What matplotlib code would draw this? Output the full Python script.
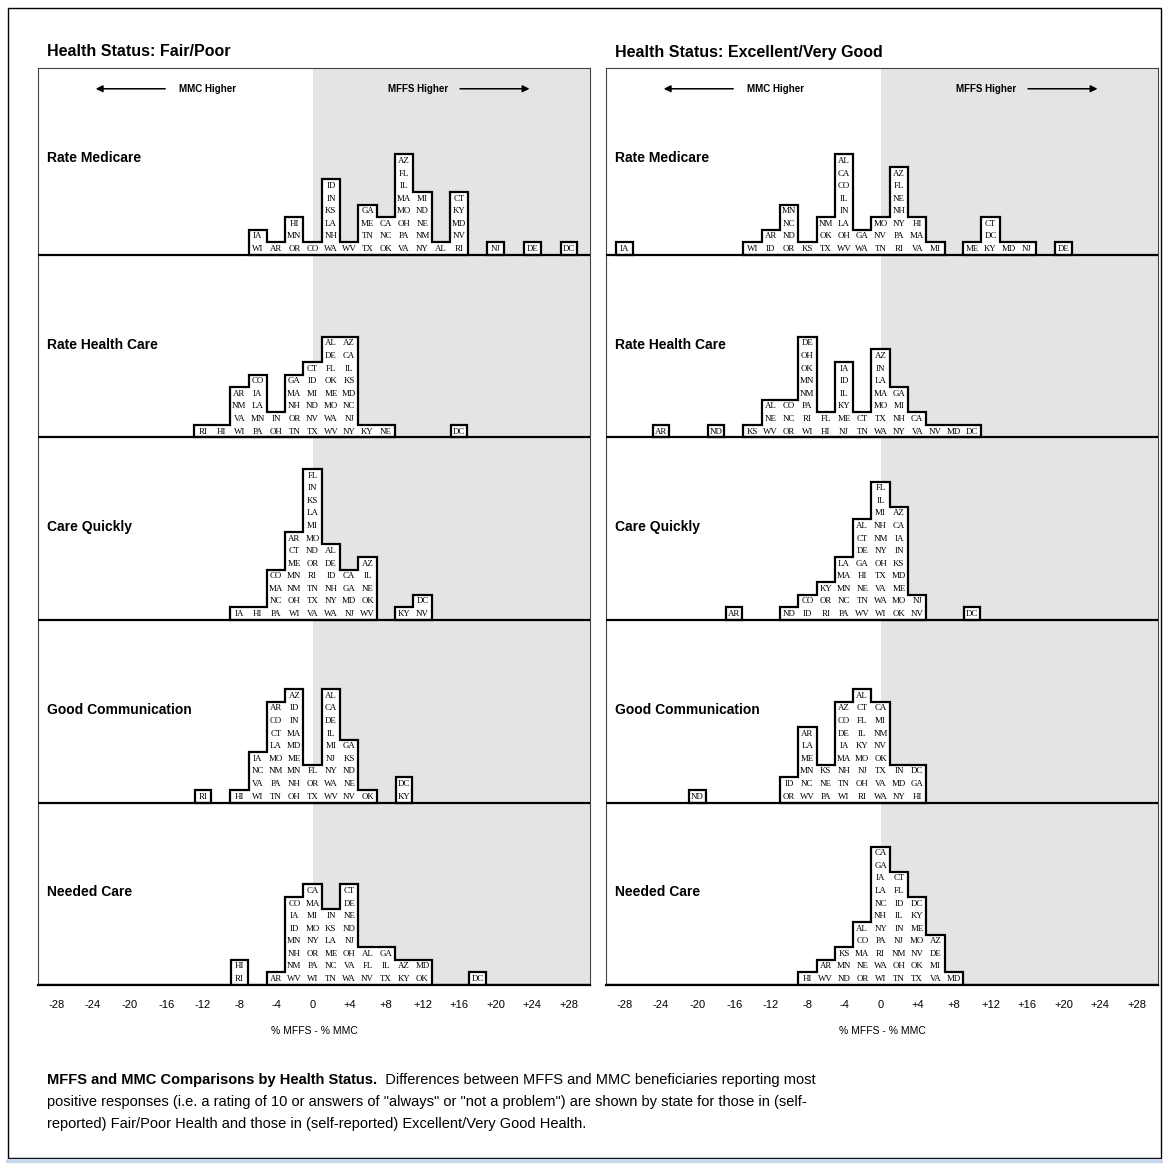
import matplotlib
matplotlib.use('Agg')
import matplotlib.pyplot as plt
from matplotlib.patches import Polygon, Rectangle
from matplotlib.lines import Line2D

# ---- data: bin value (% MFFS - % MMC) and the states stacked in that bin (top to bottom)
fp_medicare_bins = [-6, -4, -2, 0, 2, 4, 6, 8, 10, 12, 14, 16, 20, 24, 28]
fp_medicare_states = ["IA WI", "AR", "HI MN OR", "CO", "ID IN KS LA NH WA", "WV", "GA ME TN TX",
                      "CA NC OK", "AZ FL IL MA MO OH PA VA", "MI ND NE NM NY", "AL",
                      "CT KY MD NV RI", "NJ", "DE", "DC"]

fp_healthcare_bins = [-12, -10, -8, -6, -4, -2, 0, 2, 4, 6, 8, 16]
fp_healthcare_states = ["RI", "HI", "AR NM VA WI", "CO IA LA MN PA", "IN OH", "GA MA NH OR TN",
                        "CT ID MI ND NV TX", "AL DE FL OK ME MO WA WV", "AZ CA IL KS MD NC NJ NY",
                        "KY", "NE", "DC"]

fp_quickly_bins = [-8, -6, -4, -2, 0, 2, 4, 6, 10, 12]
fp_quickly_states = ["IA", "HI", "CO MA NC PA", "AR CT ME MN NM OH WI",
                     "FL IN KS LA MI MO ND OR RI TN TX VA", "AL DE ID NH NY WA", "CA GA MD NJ",
                     "AZ IL NE OK WV", "KY", "DC NV"]

fp_comm_bins = [-12, -8, -6, -4, -2, 0, 2, 4, 6, 10]
fp_comm_states = ["RI", "HI", "IA NC VA WI", "AR CO CT LA MO NM PA TN", "AZ ID IN MA MD ME MN NH OH",
                  "FL OR TX", "AL CA DE IL MI NJ NY WA WV", "GA KS ND NE NV", "OK", "DC KY"]

fp_needed_bins = [-8, -4, -2, 0, 2, 4, 6, 8, 10, 12, 18]
fp_needed_states = ["HI RI", "AR", "CO IA ID MN NH NM WV", "CA MA MI MO NY OR PA WI",
                    "IN KS LA ME NC TN", "CT DE NE ND NJ OH VA WA", "AL FL NV", "GA IL TX",
                    "AZ KY", "MD OK", "DC"]

ev_medicare_bins = [-28, -14, -12, -10, -8, -6, -4, -2, 0, 2, 4, 6, 10, 12, 14, 16, 20]
ev_medicare_states = ["IA", "WI", "AR ID", "MN NC ND OR", "KS", "NM OK TX", "AL CA CO IL IN LA OH WV",
                      "GA WA", "MO NV TN", "AZ FL NE NH NY PA RI", "HI MA VA", "MI", "ME",
                      "CT DC KY", "MD", "NJ", "DE"]

ev_healthcare_bins = [-24, -18, -14, -12, -10, -8, -6, -4, -2, 0, 2, 4, 6, 8, 10]
ev_healthcare_states = ["AR", "ND", "KS", "AL NE WV", "CO NC OR", "DE OH OK MN NM PA RI WI", "FL HI",
                        "IA ID IL KY ME NJ", "CT TN", "AZ IN LA MA MO TX WA", "GA MI NH NY",
                        "CA VA", "NV", "MD", "DC"]

ev_quickly_bins = [-16, -10, -8, -6, -4, -2, 0, 2, 4, 10]
ev_quickly_states = ["AR", "ND", "CO ID", "KY OR RI", "LA MA MN NC PA", "AL CT DE GA HI NE TN WV",
                     "FL IL MI NH NM NY OH TX VA WA WI", "AZ CA IA IN KS MD ME MO OK", "NJ NV", "DC"]

ev_comm_bins = [-20, -10, -8, -6, -4, -2, 0, 2, 4]
ev_comm_states = ["ND", "ID OR", "AR LA ME MN NC WV", "KS NE PA", "AZ CO DE IA MA NH TN WI",
                  "AL CT FL IL KY MO NJ OH RI", "CA MI NM NV OK TX VA WA", "IN MD NY", "DC GA HI"]

ev_needed_bins = [-8, -6, -4, -2, 0, 2, 4, 6, 8]
ev_needed_states = ["HI", "AR WV", "KS MN ND", "AL CO MA NE OR", "CA GA IA LA NC NH NY PA RI WA WI",
                    "CT FL ID IL IN NJ NM OH TN", "DC KY ME MO NV OK TX", "AZ DE MI VA", "MD"]

row_labels = ["Rate Medicare", "Rate Health Care", "Care Quickly", "Good Communication", "Needed Care"]
panel_titles = ["Health Status: Fair/Poor", "Health Status: Excellent/Very Good"]
tick_values = list(range(-28, 29, 4))
tick_labels = [("+%d" % v if v > 0 else str(v)) for v in tick_values]

fp_rows = [(fp_medicare_bins, fp_medicare_states), (fp_healthcare_bins, fp_healthcare_states),
           (fp_quickly_bins, fp_quickly_states), (fp_comm_bins, fp_comm_states),
           (fp_needed_bins, fp_needed_states)]
ev_rows = [(ev_medicare_bins, ev_medicare_states), (ev_healthcare_bins, ev_healthcare_states),
           (ev_quickly_bins, ev_quickly_states), (ev_comm_bins, ev_comm_states),
           (ev_needed_bins, ev_needed_states)]

W, H = 1163, 1174
ROW = 14.5          # height of one row, in stacked-label units
TOP = 4 * ROW + ROW * 187 / 182.5   # top row is a little taller
XMIN, XMAX = -30, 30.3
SANS = 'Liberation Sans'
SERIF = 'Liberation Serif'


def draw_row(ax, base, bins, states):
    stacks = sorted(zip(bins, [s.split() for s in states]))
    groups = []
    for b, st in stacks:
        if groups and b - groups[-1][-1][0] == 2:
            groups[-1].append((b, st))
        else:
            groups.append([(b, st)])
    for g in groups:
        half = 0.9 if len(g) == 1 else 1.0
        pts = [(g[0][0] - half, base)]
        for b, st in g:
            pts.append((b - half, base + len(st)))
            pts.append((b + half, base + len(st)))
        pts.append((g[-1][0] + half, base))
        ax.add_patch(Polygon(pts, closed=True, facecolor='white', edgecolor='black',
                             lw=1.6, zorder=3, joinstyle='miter'))
        for b, st in g:
            for k, name in enumerate(reversed(st)):
                ax.text(b, base + k + 0.47, name, ha='center', va='center', fontsize=6.4,
                        family=SERIF, zorder=4)


fig = plt.figure(figsize=(W / 100, H / 100), dpi=100)

panel_left = [38, 606]
for p, rows in enumerate([fp_rows, ev_rows]):
    x0 = panel_left[p]
    ax = fig.add_axes([x0 / W, 1 - 985 / H, 552 / W, 917 / H])
    ax.set_xlim(XMIN, XMAX)
    ax.set_ylim(0, TOP)
    ax.axvspan(0, XMAX, color='#e4e4e4', zorder=0, lw=0)
    for i, (bins, states) in enumerate(rows):
        base = (4 - i) * ROW
        row_top = TOP if i == 0 else base + ROW
        draw_row(ax, base, bins, states)
        ax.axhline(base, color='black', lw=1.6, zorder=5)
        ax.text(0.016, (row_top - 7.15) / TOP, row_labels[i], transform=ax.transAxes,
                fontsize=10, fontweight='bold', family=SANS, va='center', ha='left', zorder=6)

    # direction arrows
    ya = TOP - 1.65
    ax.annotate('', xy=(-24, ya), xytext=(-15.8, ya),
                arrowprops=dict(arrowstyle='-|>', color='black', lw=1.1, mutation_scale=10))
    ax.annotate('', xy=(24, ya), xytext=(15.8, ya),
                arrowprops=dict(arrowstyle='-|>', color='black', lw=1.1, mutation_scale=10))
    ax.text(-11.5, ya, 'MMC Higher', ha='center', va='center', fontsize=7, fontweight='bold', family=SANS)
    ax.text(11.5, ya, 'MFFS Higher', ha='center', va='center', fontsize=7, fontweight='bold', family=SANS)

    ax.set_xticks(tick_values)
    ax.set_xticklabels(tick_labels, family=SANS, fontsize=8)
    ax.set_yticks([])
    ax.tick_params(axis='x', length=0, pad=11)
    ax.set_xlabel('% MFFS - % MMC', family=SANS, fontsize=7.5, labelpad=11)
    for side in ['top', 'left', 'right']:
        ax.spines[side].set_linewidth(0.8)
        ax.spines[side].set_color('#444444')
    ax.spines['bottom'].set_linewidth(1.6)

    fig.text((x0 + 9) / W, 1 - 52 / H, panel_titles[p], fontsize=11.5, fontweight='bold',
             family=SANS, va='center', ha='left')

# outer frame
fig.add_artist(Rectangle((8 / W, 1 - 1158 / H), 1153 / W, 1150 / H, transform=fig.transFigure,
                         fill=False, edgecolor='black', lw=1.0))
fig.add_artist(Line2D([8 / W, 1], [1 - 1161 / H, 1 - 1161 / H], transform=fig.transFigure,
                      color='#c9d7ee', lw=3))

# caption
cap_y = [1080, 1102, 1124]
fig.canvas.draw()
renderer = fig.canvas.get_renderer()
t_bold = fig.text(47 / W, 1 - cap_y[0] / H, 'MFFS and MMC Comparisons by Health Status.',
                  fontsize=10.5, fontweight='bold', family=SANS, va='center', ha='left')
bb = t_bold.get_window_extent(renderer=renderer)
fig.text(bb.x1 / W, 1 - cap_y[0] / H,
         '  Differences between MFFS and MMC beneficiaries reporting most',
         fontsize=10.5, family=SANS, va='center', ha='left')
fig.text(47 / W, 1 - cap_y[1] / H,
         'positive responses (i.e. a rating of 10 or answers of "always" or "not a problem") '
         'are shown by state for those in (self-',
         fontsize=10.5, family=SANS, va='center', ha='left')
fig.text(47 / W, 1 - cap_y[2] / H,
         'reported) Fair/Poor Health and those in (self-reported) Excellent/Very Good Health.',
         fontsize=10.5, family=SANS, va='center', ha='left')

fig.savefig('out.png', dpi=100)
